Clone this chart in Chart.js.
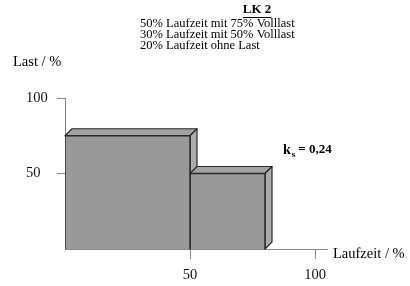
<!DOCTYPE html>
<html>
<head>
<meta charset="utf-8">
<script src="https://cdn.jsdelivr.net/npm/chart.js@4/dist/chart.umd.min.js"></script>
<style>
  html, body { margin: 0; padding: 0; background: #fff; }
  #wrap { width: 410px; height: 286px; }
</style>
</head>
<body>
<div id="wrap"><canvas id="lk" width="410" height="286"></canvas></div>
<script>
// Lastkollektiv LK 2: Laufzeitanteile und Last
const shares = [50, 30, 20]   // Laufzeit / %
const loads  = [75, 50, 0]    // Last / %
const xTicks = [50, 100]
const yTicks = [50, 100]
const titleLines = [
    '50% Laufzeit mit 75% Volllast',
    '30% Laufzeit mit 50% Volllast',
    '20% Laufzeit ohne Last',
]
const kValue = '0,24'

const SERIF = "'Liberation Serif', 'DejaVu Serif', serif"
const DEPTH = 7

// one closed outline per block, drawn as a filled line through the scales
const blocks = []
let start = 0
shares.forEach((s, i) => {
    if (loads[i] > 0) blocks.push({ x0: start, x1: start + s, y: loads[i] })
    start += s
})

const datasets = blocks.map(b => ({
    data: [{ x: b.x0, y: 0 }, { x: b.x0, y: b.y }, { x: b.x1, y: b.y }, { x: b.x1, y: 0 }],
    showLine: true,
    fill: 'origin',
    backgroundColor: '#999999',
    borderColor: '#2a2a2a',
    borderWidth: 1.5,
    pointRadius: 0,
    tension: 0,
}))

// top and side faces of the blocks (3D look)
const depthFaces = {
    id: 'depthFaces',
    beforeDatasetsDraw(chart) {
        const { ctx, scales: { x, y } } = chart
        ctx.save()
        ctx.lineWidth = 1.2
        ctx.strokeStyle = '#2a2a2a'
        ctx.lineJoin = 'round'
        blocks.forEach(b => {
            const l = x.getPixelForValue(b.x0)
            const r = x.getPixelForValue(b.x1)
            const t = y.getPixelForValue(b.y)
            const bt = y.getPixelForValue(0)
            // top
            ctx.beginPath()
            ctx.moveTo(l, t); ctx.lineTo(l + DEPTH, t - DEPTH)
            ctx.lineTo(r + DEPTH, t - DEPTH); ctx.lineTo(r, t); ctx.closePath()
            ctx.fillStyle = '#a2a2a2'; ctx.fill(); ctx.stroke()
            // side
            ctx.beginPath()
            ctx.moveTo(r, t); ctx.lineTo(r + DEPTH, t - DEPTH)
            ctx.lineTo(r + DEPTH, bt - DEPTH); ctx.lineTo(r, bt); ctx.closePath()
            ctx.fillStyle = '#ababab'; ctx.fill(); ctx.stroke()
        })
        ctx.restore()
    },
}

// titles, axis names and k value
const labels = {
    id: 'labels',
    afterDraw(chart) {
        const { ctx } = chart
        ctx.save()
        ctx.fillStyle = '#000'
        ctx.textBaseline = 'middle'

        ctx.font = 'bold 13px ' + SERIF
        ctx.textAlign = 'center'
        ctx.fillText('LK 2', 257, 10)
        const w = ctx.measureText('LK 2').width
        ctx.fillRect(257 - w / 2, 17, w, 1)

        ctx.font = '12.5px ' + SERIF
        ctx.textAlign = 'left'
        titleLines.forEach((t, i) => ctx.fillText(t, 140, 24 + i * 11))

        ctx.font = '14.5px ' + SERIF
        ctx.fillText('Last / %', 13, 62)
        ctx.fillText('Laufzeit / %', 333, 254)

        ctx.font = 'bold 14px ' + SERIF
        ctx.fillText('k', 283, 150)
        let kx = 283 + ctx.measureText('k').width
        ctx.font = 'bold 9px ' + SERIF
        ctx.fillText('s', kx + 1, 155)
        kx += ctx.measureText('s').width + 4
        ctx.font = 'bold 13px ' + SERIF
        ctx.fillText('= ' + kValue, kx, 150)
        ctx.restore()
    },
}

new Chart(document.getElementById('lk'), {
    type: 'scatter',
    data: { datasets },
    options: {
        responsive: false,
        animation: false,
        events: [],
        layout: { padding: { top: 98, right: 82.5, left: 26, bottom: 0 } },
        plugins: { legend: { display: false }, tooltip: { enabled: false } },
        scales: {
            x: {
                type: 'linear', min: 0, max: 105,
                afterBuildTicks: s => { s.ticks = xTicks.map(v => ({ value: v })) },
                afterFit: s => { s.height = 37 },
                grid: { drawOnChartArea: false, tickLength: 10, color: '#8a8a8a' },
                border: { color: '#8a8a8a', width: 1 },
                ticks: { font: { family: SERIF, size: 14.5 }, color: '#111', padding: 7, maxRotation: 0 },
            },
            y: {
                type: 'linear', min: 0, max: 100,
                afterBuildTicks: s => { s.ticks = yTicks.map(v => ({ value: v })) },
                afterFit: s => { s.width = 39 },
                grid: { drawOnChartArea: false, tickLength: 8, color: '#8a8a8a' },
                border: { color: '#8a8a8a', width: 1 },
                ticks: { font: { family: SERIF, size: 14.5 }, color: '#111', crossAlign: 'far' },
            },
        },
    },
    plugins: [depthFaces, labels],
})
</script>
</body>
</html>
